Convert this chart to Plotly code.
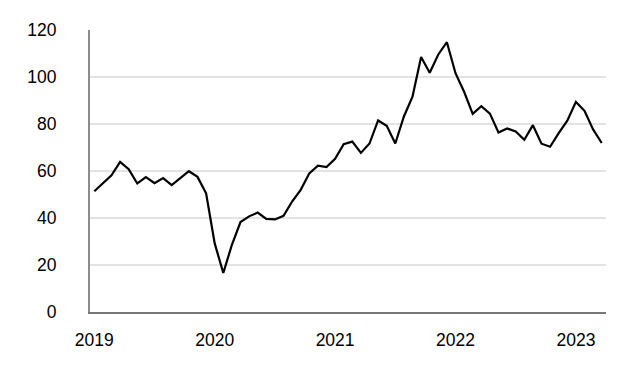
import plotly.graph_objects as go

months = [f"{y}-{m:02d}" for y in range(2019, 2024) for m in range(1, 13)]
values = [
    51.4, 55.0, 58.2, 63.9, 60.8, 54.7, 57.4, 54.8, 57.0, 54.0, 57.0, 59.9,
    57.5, 50.5, 29.2, 16.6, 28.6, 38.3, 40.7, 42.3, 39.6, 39.4, 40.9, 47.0,
    52.0, 59.0, 62.3, 61.7, 65.2, 71.4, 72.5, 67.7, 71.7, 81.5, 79.2, 71.7,
    83.2, 91.6, 108.5, 101.8, 109.6, 114.8, 101.6, 93.7, 84.3, 87.6, 84.4, 76.4,
    78.1, 76.8, 73.3, 79.5, 71.6, 70.3, 76.1, 81.4, 89.4, 85.6, 77.7, 71.9,
]
tick_months = ["2019-01", "2020-03", "2021-05", "2022-07", "2023-09"]
tick_labels = ["2019", "2020", "2021", "2022", "2023"]
y_ticks = [0, 20, 40, 60, 80, 100, 120]

fig = go.Figure()
fig.add_trace(go.Scatter(
    x=months, y=values, mode="lines",
    line=dict(color="#000000", width=2.2),
    hoverinfo="skip", showlegend=False,
))

fig.update_layout(
    width=636, height=378,
    margin=dict(l=89.5, r=30, t=30, b=66),
    paper_bgcolor="white", plot_bgcolor="white",
    font=dict(family="Liberation Sans, Arial, sans-serif", size=17.5, color="#000000"),
    showlegend=False,
)
fig.update_xaxes(
    type="category", range=[-0.5, 59.5],
    tickmode="array", tickvals=tick_months, ticktext=tick_labels,
    showgrid=False, showline=True, linecolor="#777777", linewidth=2,
    ticks="", ticklabelstandoff=11, zeroline=False,
)
fig.update_yaxes(
    range=[0, 120], tickmode="array", tickvals=y_ticks,
    showgrid=True, gridcolor="#e3e3e3", gridwidth=1.5,
    showline=True, linecolor="#8c8c8c", linewidth=2,
    ticks="", ticklabelstandoff=28, zeroline=False,
)

fig.write_html("out.html")
